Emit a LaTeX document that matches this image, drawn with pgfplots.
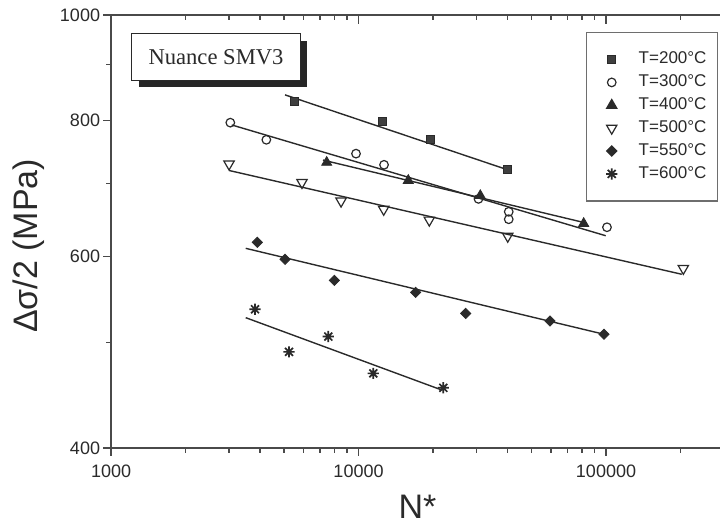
\documentclass[border=0pt]{standalone}
\usepackage{fontspec}
\setmainfont{Liberation Sans}
\newfontfamily\timesfont{Liberation Serif}
\usepackage{pgfplots}
\pgfplotsset{compat=1.18}
\definecolor{ink}{HTML}{2A2A2A}
\definecolor{axcol}{HTML}{4A4A4A}
\pgfdeclareplotmark{ast8}{%
  \pgfpathmoveto{\pgfqpoint{0pt}{\pgfplotmarksize}}\pgfpathlineto{\pgfqpoint{0pt}{-\pgfplotmarksize}}%
  \pgfpathmoveto{\pgfqpoint{\pgfplotmarksize}{0pt}}\pgfpathlineto{\pgfqpoint{-\pgfplotmarksize}{0pt}}%
  \pgfpathmoveto{\pgfqpoint{0.707\pgfplotmarksize}{0.707\pgfplotmarksize}}\pgfpathlineto{\pgfqpoint{-0.707\pgfplotmarksize}{-0.707\pgfplotmarksize}}%
  \pgfpathmoveto{\pgfqpoint{0.707\pgfplotmarksize}{-0.707\pgfplotmarksize}}\pgfpathlineto{\pgfqpoint{-0.707\pgfplotmarksize}{0.707\pgfplotmarksize}}%
  \pgfusepathqstroke}
\begin{document}
\begin{tikzpicture}
\begin{axis}[
  scale only axis, width=306.5pt, height=216.5pt,
  xmode=log, ymode=log,
  xmin=1000, xmax=300000, ymin=400, ymax=1000,
  xtick={1000,10000,100000}, xticklabels={1000,10000,100000},
  minor xtick={2000,3000,4000,5000,6000,7000,8000,9000,20000,30000,40000,50000,60000,70000,80000,90000,200000},
  ytick={400,600,800,1000}, yticklabels={400,600,800,1000},
  minor ytick={500,700,900},
  xtick pos=left, ytick pos=left,
  tick align=outside,
  major tick length=4pt, minor tick length=2.5pt,
  axis line style={axcol, line width=0.75pt},
  every tick/.style={axcol, line width=0.7pt},
  tick label style={font=\fontsize{9}{10.5}\selectfont, text=ink},
  yticklabel style={inner xsep=1.3pt},
  xticklabel style={inner ysep=4.3pt},
  xlabel={N*}, ylabel={Δσ/2 (MPa)},
  label style={font=\fontsize{17}{20}\selectfont, text=ink},
  x label style={at={(axis description cs:0.5,0)}, anchor=center, yshift=-29.5pt},
  y label style={at={(axis description cs:-0.1338,0.4665)}, anchor=center},
  legend style={at={(1,1)}, anchor=north east, xshift=-3pt, yshift=-8.5pt,
    draw=axcol!80, line width=0.6pt, font=\fontsize{8.5}{10}\selectfont, text=ink,
    inner xsep=3.5pt, inner ysep=7.8pt, row sep=0pt},
  legend cell align=left,
  legend image code/.code={\draw[#1] plot coordinates {(9pt,0pt)}; \path[draw=none] (0pt,0pt) -- (20.5pt,0pt);},
]
\coordinate (BBsw) at (axis cs:356,337);
\coordinate (BBne) at (axis cs:288800,1032.2);

% fitted lines
\addplot[ink, line width=0.7pt, forget plot] coordinates {(5047,844.4) (40080,720.6)};
\addplot[ink, line width=0.7pt, forget plot] coordinates {(3075,792.4) (99720,626.8)};
\addplot[ink, line width=0.7pt, forget plot] coordinates {(7188,735.6) (81240,644.6)};
\addplot[ink, line width=0.7pt, forget plot] coordinates {(2998,719.6) (202300,577.7)};
\addplot[ink, line width=0.7pt, forget plot] coordinates {(3501,610.3) (98150,508.8)};
\addplot[ink, line width=0.7pt, forget plot] coordinates {(3501,527.0) (21690,452.2)};

% data
\addplot[only marks, mark=square*, mark size=2pt, mark options={draw=ink, fill=ink!90}]
  coordinates {(5503,832.4) (12440,798) (19450,767.9) (40080,720.6)};
\addlegendentry{T=200°C}
\addplot[only marks, mark=o, mark size=2.15pt, mark options={draw=ink, fill=white, line width=0.6pt}]
  coordinates {(3034,796.3) (4242,767.9) (9770,745.7) (12680,728.3) (30530,677.6) (40450,659.4) (40450,649.0) (100900,638.1)};
\addlegendentry{T=300°C}
\addplot[only marks, mark=triangle*, mark size=2.9pt, mark options={draw=ink, fill=ink}]
  coordinates {(7438,732.0) (15890,704.5) (31050,682.3) (81240,643.2)};
\addlegendentry{T=400°C}
\addplot[only marks, mark=triangle, mark size=3pt, mark options={draw=ink, fill=white, rotate=180, line width=0.6pt}]
  coordinates {(2998,729.5) (5910,701.5) (8500,674.5) (12640,662.8) (19320,647.8) (40080,626.1) (205300,584.9)};
\addlegendentry{T=500°C}
\addplot[only marks, mark=square*, mark size=1.8pt, mark options={draw=ink, fill=ink, rotate=45}]
  coordinates {(3901,618.1) (5047,596.2) (7985,570.3) (17020,556.0) (27110,531.8) (59380,523.3) (98150,508.8)};
\addlegendentry{T=550°C}
\addplot[only marks, mark=ast8, mark size=2.8pt, mark options={draw=ink, line width=0.85pt}]
  coordinates {(3818,536.4) (5239,490.2) (7551,506.3) (11475,468.4) (22010,454.3)};
\addlegendentry{T=600°C}

% title box with shadow
\node[fill=black!85, minimum width=84.2pt, minimum height=23.3pt, inner sep=0pt]
  at ([xshift=3.6pt,yshift=-3.6pt]axis cs:2656,915) {};
\node[draw=ink, line width=0.6pt, fill=white, minimum width=84.2pt, minimum height=23.3pt, inner sep=0pt,
  font=\timesfont\fontsize{11.3}{13}\selectfont, text=ink] at (axis cs:2656,915) {Nuance SMV3};
\end{axis}

% mirrored top ticks pointing inward
\begin{axis}[
  scale only axis, width=306.5pt, height=216.5pt,
  xmode=log, ymode=log,
  xmin=1000, xmax=300000, ymin=400, ymax=1000,
  axis x line*=top, axis y line=none,
  tick align=inside,
  xtick={1000,10000,100000}, xticklabels={},
  minor xtick={2000,3000,4000,5000,6000,7000,8000,9000,20000,30000,40000,50000,60000,70000,80000,90000,200000},
  ytick=\empty,
  major tick length=4.5pt, minor tick length=2.5pt,
  axis line style={axcol, line width=0.75pt},
  every tick/.style={axcol, line width=0.7pt},
]
\end{axis}
\pgfresetboundingbox
\path[use as bounding box] (BBsw) rectangle (BBne);
\end{tikzpicture}
\end{document}
